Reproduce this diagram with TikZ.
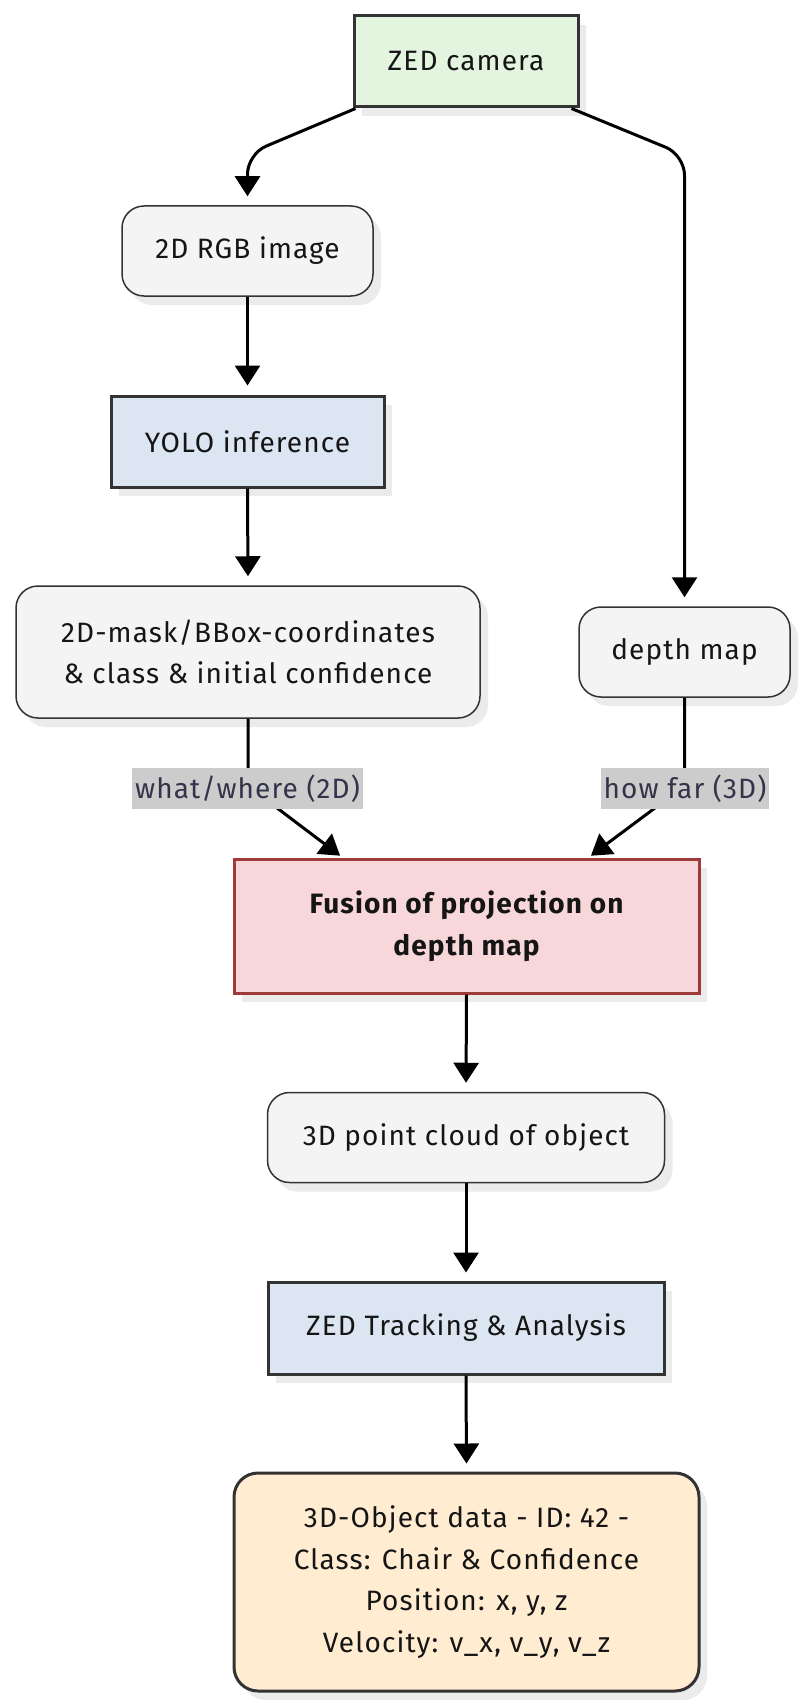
\documentclass[tikz,border=0pt]{standalone}
\usepackage{fontspec}
\setmainfont{Fira Sans}[LetterSpace=4]
\usetikzlibrary{arrows.meta,shadows,calc}
\definecolor{bordc}{HTML}{333333}
\definecolor{greenf}{HTML}{E3F5DF}
\definecolor{grayf}{HTML}{F4F4F4}
\definecolor{bluef}{HTML}{DCE6F2}
\definecolor{pinkf}{HTML}{F8D7DA}
\definecolor{redb}{HTML}{9E3A3A}
\definecolor{orangef}{HTML}{FFECD1}
\definecolor{labf}{HTML}{CCCCCC}
\definecolor{labt}{HTML}{33334A}
\definecolor{shadc}{HTML}{EBEBEB}
\definecolor{txtc}{HTML}{151515}
\begin{document}
\begin{tikzpicture}[x=1pt,y=-1pt,
  base/.style={draw=bordc, align=center, text=txtc, inner sep=0pt,
    font=\fontsize{28}{41.5}\selectfont,
    drop shadow={shadow xshift=8pt, shadow yshift=-9pt, fill=shadc, opacity=1}},
  sharpbox/.style={base, line width=3pt, rectangle},
  roundbox/.style={base, line width=1.5pt, rounded corners=22pt, fill=grayf},
  arr/.style={line width=3pt, draw=black, -{Triangle[length=20pt,width=25pt]}},
  lbl/.style={fill=labf, text=labt, inner sep=0pt, font=\fontsize{28}{41.5}\selectfont}
]
\useasboundingbox (0,0) rectangle (806,1704);
\fill[white] (0,0) rectangle (806,1704);

\node[sharpbox, fill=greenf, minimum width=224pt, minimum height=91pt] (zed) at (466,61.5) {ZED camera};
\node[roundbox, minimum width=251pt, minimum height=90pt] (rgb) at (247.5,251) {2D RGB image};
\node[sharpbox, fill=bluef, minimum width=273pt, minimum height=91pt] (yolo) at (247.5,441.5) {YOLO inference};
\node[roundbox, minimum width=464pt, minimum height=132pt] (mask) at (248,652) {2D-mask/BBox-coordinates\\ \& class \& initial confidence};
\node[roundbox, minimum width=211pt, minimum height=90pt] (depth) at (684.5,652) {depth map};
\node[sharpbox, fill=pinkf, draw=redb, minimum width=465pt, minimum height=134pt, font=\fontsize{28}{42}\selectfont\bfseries] (fusion) at (466.5,926) {Fusion of projection on\\ depth map};
\node[roundbox, minimum width=397pt, minimum height=90pt] (pc) at (466,1137.5) {3D point cloud of object};
\node[sharpbox, fill=bluef, minimum width=396pt, minimum height=92pt] (track) at (466,1328) {ZED Tracking \& Analysis};
\node[base, line width=3pt, rounded corners=24pt, fill=orangef, minimum width=465pt, minimum height=218pt] (obj) at (466.5,1582) {3D-Object data - ID: 42 -\\ Class: Chair \& Confidence\\ Position: x, y, z\\ Velocity: v\_x, v\_y, v\_z};

\draw[arr, rounded corners=20pt, shorten >=9pt] ($(zed.south west)+(3,0)$) -- (rgb.north |- {(0,154)}) -- (rgb.north);
\draw[arr, rounded corners=20pt, shorten >=9pt] ($(zed.south east)+(-8,0)$) -- (depth.north |- {(0,155)}) -- (depth.north);
\draw[arr, shorten >=9pt] (rgb.south) -- (yolo.north);
\draw[arr, shorten >=9pt] (yolo.south) -- (mask.north);
\draw[arr, shorten >=3pt] (mask.south) -- (mask.south |- {(0,786)}) -- ($(fusion.north)+(-124,0)$);
\draw[arr, shorten >=3pt] (depth.south) -- (depth.south |- {(0,786)}) -- ($(fusion.north)+(122,0)$);
\draw[arr, shorten >=9pt] (fusion.south) -- (pc.north);
\draw[arr, shorten >=8pt] (pc.south) -- (track.north);
\draw[arr, shorten >=8pt] (track.south) -- (obj.north);

\node[lbl, minimum width=231pt, minimum height=41pt] (l1) at (247.5,788.5) {what/where (2D)};
\node[lbl, minimum width=168pt, minimum height=41pt] (l2) at (685,788.5) {how far (3D)};
\end{tikzpicture}
\end{document}
